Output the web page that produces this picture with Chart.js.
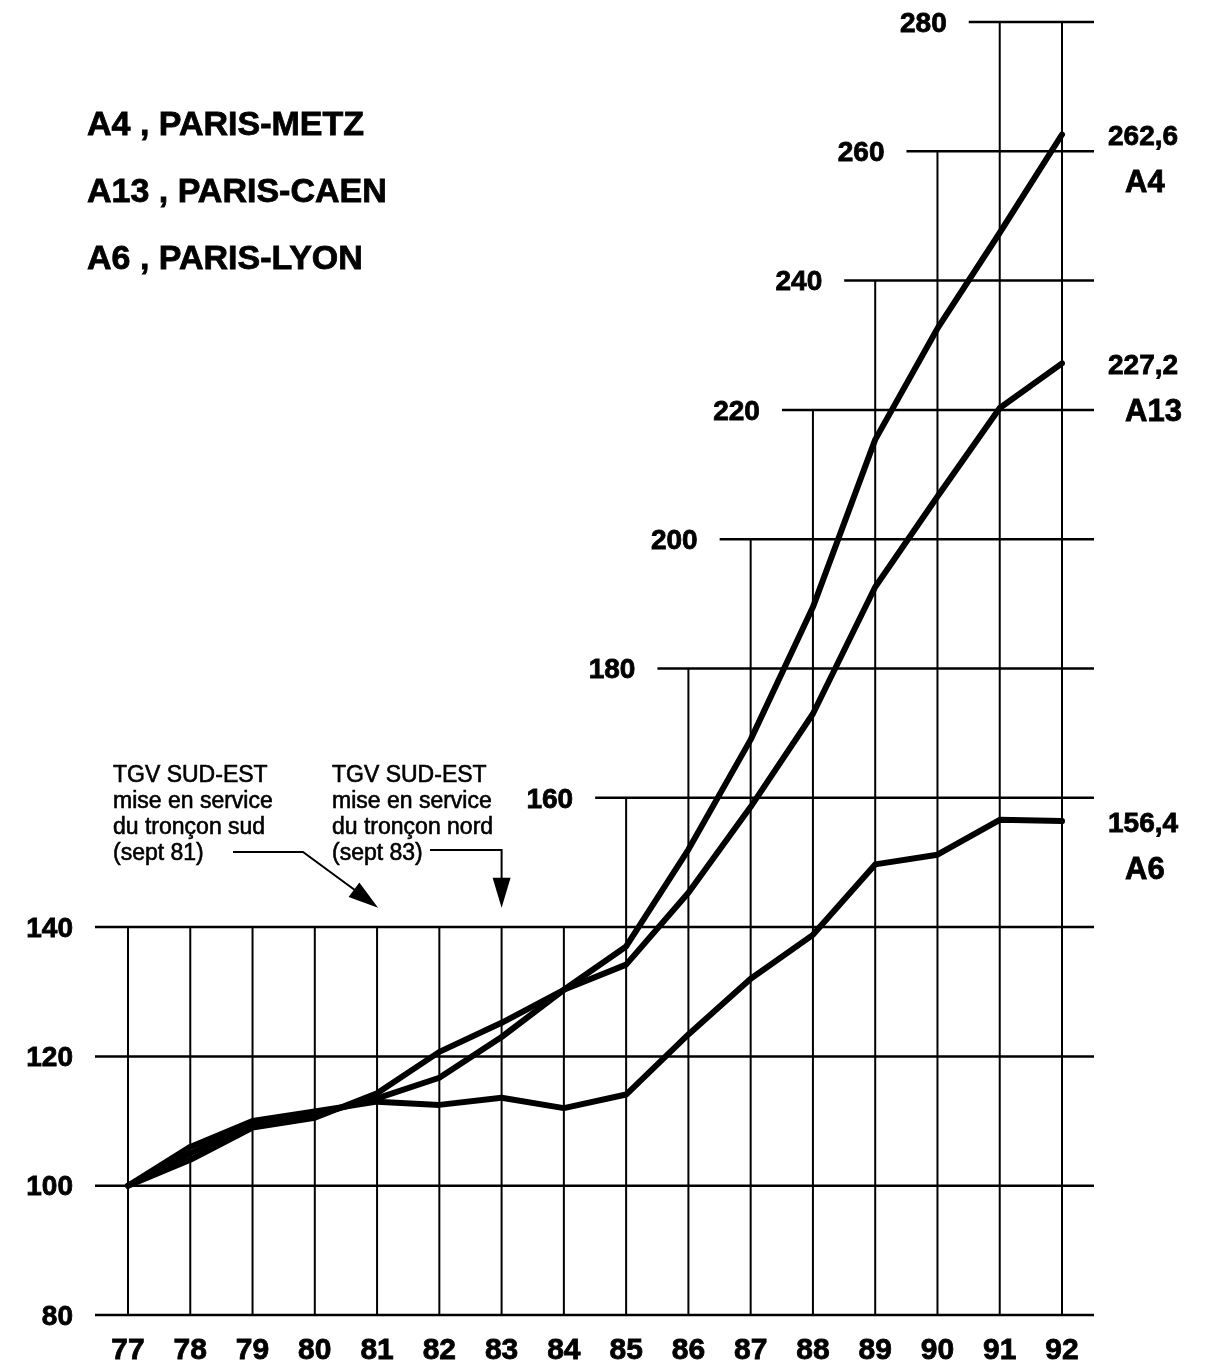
<!DOCTYPE html>
<html>
<head>
<meta charset="utf-8">
<title>A4 A13 A6</title>
<script src="https://cdn.jsdelivr.net/npm/chart.js@4/dist/chart.umd.min.js"></script>
<style>
body{margin:0;background:#fff}
canvas{display:block}
</style>
</head>
<body>
<canvas id="myChart" width="1227" height="1365"></canvas>
<script>
// data
var years = ['77','78','79','80','81','82','83','84','85','86','87','88','89','90','91','92'];
var a4  = [100, 105, 109.5, 111, 113.5, 116.7, 123, 130.3, 137, 152, 169, 189.5, 215.4, 232.6, 247.4, 262.6];
var a13 = [100, 104, 109, 110.5, 114.3, 120.7, 125.2, 130.3, 134.2, 145.3, 158.6, 173, 192.6, 206.6, 220.3, 227.2];
var a6  = [100, 106, 110, 111.5, 113, 112.5, 113.6, 112, 114.1, 123.4, 132, 138.8, 149.7, 151.2, 156.6, 156.4];
var yTicks = [80, 100, 120, 140, 160, 180, 200, 220, 240, 260, 280];
var seriesNames = ['A4', 'A13', 'A6'];
var endLabels = ['262,6', '227,2', '156,4'];
var legendText = ['A4 , PARIS-METZ', 'A13 , PARIS-CAEN', 'A6 , PARIS-LYON'];
var noteSud = ['TGV SUD-EST', 'mise en service', 'du tronçon sud', '(sept 81)'];
var noteNord = ['TGV SUD-EST', 'mise en service', 'du tronçon nord', '(sept 83)'];

var FONT = '"Liberation Sans", Arial, sans-serif';

// staircase grid : level 160 starts at column 85, each next level one year later
function firstCol(v) { return v <= 140 ? 0 : (v - 160) / 20 + 8; }
function colTop(i) { return i < 8 ? 140 : Math.min(280, 160 + (i - 8) * 20); }

// heavier print look: fill + thin stroke
function inkText(ctx, t, px, py, w) {
  ctx.lineWidth = w;
  ctx.strokeText(t, px, py);
  ctx.fillText(t, px, py);
}

function arrowHead(ctx, fx, fy, tx, ty) {
  var a = Math.atan2(ty - fy, tx - fx), len = 30, w = 9;
  ctx.beginPath();
  ctx.moveTo(tx, ty);
  ctx.lineTo(tx - len * Math.cos(a) + w * Math.sin(a), ty - len * Math.sin(a) - w * Math.cos(a));
  ctx.lineTo(tx - len * Math.cos(a) - w * Math.sin(a), ty - len * Math.sin(a) + w * Math.cos(a));
  ctx.closePath();
  ctx.fill();
}

var staircase = {
  id: 'staircase',
  beforeDatasetsDraw: function (chart) {
    var ctx = chart.ctx, x = chart.scales.x, y = chart.scales.y;
    ctx.save();
    ctx.strokeStyle = '#000';
    ctx.fillStyle = '#000';
    ctx.lineWidth = 2;
    years.forEach(function (l, i) {
      var px = x.getPixelForValue(i);
      ctx.beginPath();
      ctx.moveTo(px, y.getPixelForValue(80));
      ctx.lineTo(px, y.getPixelForValue(colTop(i)));
      ctx.stroke();
    });
    var right = x.getPixelForValue(years.length - 1) + 32;
    ctx.font = 'bold 28px ' + FONT;
    ctx.textAlign = 'right';
    ctx.textBaseline = 'middle';
    yTicks.forEach(function (v) {
      var py = y.getPixelForValue(v);
      var x0 = x.getPixelForValue(firstCol(v)) - (v <= 140 ? 33 : 31);
      ctx.lineWidth = 2.5;
      ctx.beginPath();
      ctx.moveTo(x0, py);
      ctx.lineTo(right, py);
      ctx.stroke();
      inkText(ctx, String(v), x0 - 22, py + 2, 0.8);
    });
    // year labels
    ctx.font = 'bold 30px ' + FONT;
    ctx.textAlign = 'center';
    ctx.textBaseline = 'alphabetic';
    years.forEach(function (l, i) {
      inkText(ctx, l, x.getPixelForValue(i), y.getPixelForValue(80) + 44, 0.8);
    });
    ctx.restore();
  },
  afterDraw: function (chart) {
    var ctx = chart.ctx, x = chart.scales.x, y = chart.scales.y;
    var last = years.length - 1, xr = x.getPixelForValue(last);
    ctx.save();
    ctx.fillStyle = '#000';
    ctx.strokeStyle = '#000';
    // legend text
    ctx.font = 'bold 34px ' + FONT;
    ctx.textAlign = 'left';
    ctx.textBaseline = 'alphabetic';
    legendText.forEach(function (t, i) { inkText(ctx, t, 87, 135 + i * 67, 0.8); });
    // end values and names
    var sets = [a4, a13, a6];
    ctx.textBaseline = 'middle';
    sets.forEach(function (d, i) {
      var py = y.getPixelForValue(d[last]);
      ctx.font = 'bold 28px ' + FONT;
      inkText(ctx, endLabels[i], xr + 46, py + 3, 0.8);
      ctx.font = 'bold 31px ' + FONT;
      inkText(ctx, seriesNames[i], xr + 63, py + 49, 0.8);
    });
    // TGV notes
    ctx.font = '23px ' + FONT;
    ctx.textBaseline = 'alphabetic';
    noteSud.forEach(function (t, i) { inkText(ctx, t, 113, 782 + i * 26, 0.6); });
    noteNord.forEach(function (t, i) { inkText(ctx, t, 332, 782 + i * 26, 0.6); });
    ctx.lineWidth = 2;
    var tipY = y.getPixelForValue(143);
    var t1 = x.getPixelForValue(4) + 1;
    ctx.beginPath();
    ctx.moveTo(233, 852); ctx.lineTo(303, 852); ctx.lineTo(t1 - 10, tipY - 8);
    ctx.stroke();
    arrowHead(ctx, 303, 852, t1, tipY);
    var t2 = x.getPixelForValue(6);
    ctx.beginPath();
    ctx.moveTo(430, 850); ctx.lineTo(t2, 850); ctx.lineTo(t2, tipY - 10);
    ctx.stroke();
    arrowHead(ctx, t2, 850, t2, tipY);
    ctx.restore();
  }
};

function line(d) {
  return {
    data: d, borderColor: '#000', borderWidth: 6, pointRadius: 0, tension: 0,
    fill: false, borderJoinStyle: 'round', borderCapStyle: 'round'
  };
}

var ctx = document.getElementById('myChart').getContext('2d');
var chart = new Chart(ctx, {
  type: 'line',
  data: {
    labels: years,
    datasets: [line(a4), line(a13), line(a6)]
  },
  options: {
    responsive: false,
    animation: false,
    layout: { padding: { left: 128, right: 165, top: 22, bottom: 50 } },
    plugins: { legend: { display: false }, tooltip: { enabled: false } },
    scales: {
      x: { type: 'category', display: false, offset: false },
      y: { type: 'linear', display: false, min: 80, max: 280 }
    }
  },
  plugins: [staircase]
});
</script>
</body>
</html>
